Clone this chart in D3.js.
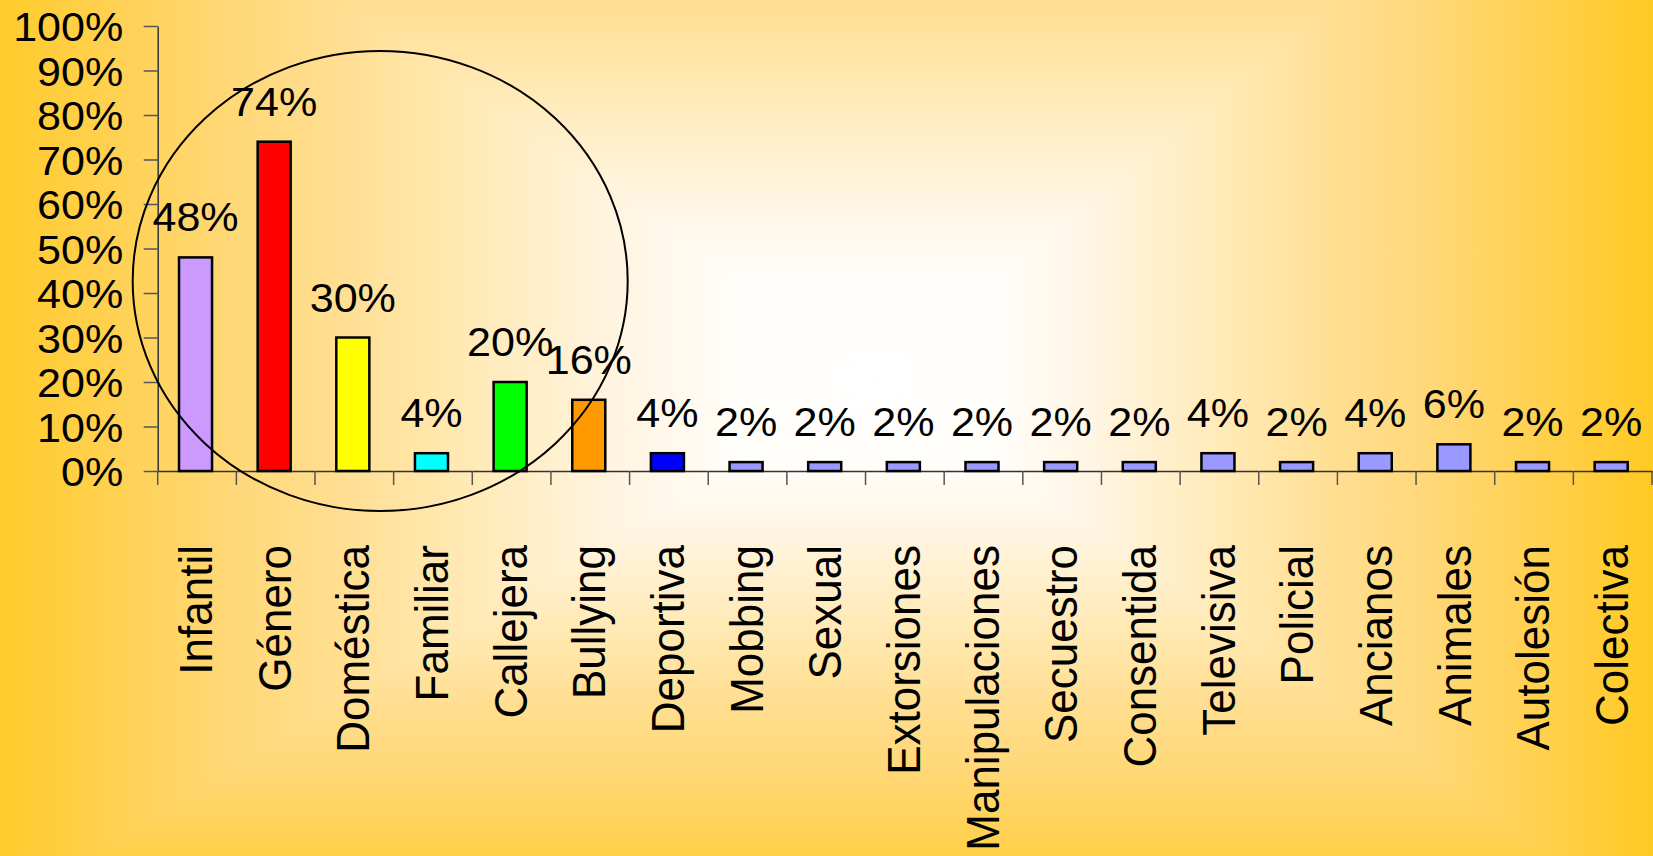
<!DOCTYPE html>
<html>
<head>
<meta charset="utf-8">
<script src="https://cdn.jsdelivr.net/npm/d3@7"></script>
<style>
  html, body { margin: 0; padding: 0; overflow: hidden; background: #FFC81E; }
  svg { display: block; }
  text { font-family: "Liberation Sans", Arial, Helvetica, sans-serif; fill: #000; }
</style>
</head>
<body>
<svg id="chart" width="1653" height="856"></svg>
<script>
// ---- data ----
const categories = ["Infantil","Género","Doméstica","Familiar","Callejera","Bullying","Deportiva","Mobbing","Sexual","Extorsiones","Manipulaciones","Secuestro","Consentida","Televisiva","Policial","Ancianos","Animales","Autolesión","Colectiva"];
const values = [48,74,30,4,20,16,4,2,2,2,2,2,2,4,2,4,6,2,2];
const barColors = ["#CC99FF","#FF0000","#FFFF00","#00FFFF","#00FF00","#FF9900","#0000FF","#9999FF","#9999FF","#9999FF","#9999FF","#9999FF","#9999FF","#9999FF","#9999FF","#9999FF","#9999FF","#9999FF","#9999FF"];
const yTickValues = [0,10,20,30,40,50,60,70,80,90,100];
const yTickLabels = ["0%","10%","20%","30%","40%","50%","60%","70%","80%","90%","100%"];
// annotation ellipse extent (in category-index units and value units)
const ellipseIndexExtent = [-0.318, 5.976];
const ellipseValueExtent = [-9.0, 94.4];

// ---- layout ----
const W = 1653, H = 856;
const plotLeft = 157.7, plotRight = 1652, plotTop = 26, plotBottom = 471;
const stretch = 1.05;

const svg = d3.select("#chart");

// ---- background: rectangular "from centre" gradient ----
const defs = svg.append("defs");
const gc = {x: 876, y: 380, left: 930, right: 800, top: 656, bottom: 560};
const stops = [[0,"#FFFFFF"],[0.15,"#FFFEFA"],[0.27,"#FFF5E3"],[0.46,"#FFE8B0"],[0.58,"#FFDE90"],[0.69,"#FFD878"],[0.8,"#FFD258"],[0.92,"#FFCC32"],[1,"#FFC81C"]];
const k = 4;
const quads = [
  {id:"gTop",   x2: gc.x, y2: gc.y - gc.top,
   pts: [[gc.x, gc.y],[gc.x - gc.left*k, gc.y - gc.top*k],[gc.x + gc.right*k, gc.y - gc.top*k]]},
  {id:"gBot",   x2: gc.x, y2: gc.y + gc.bottom,
   pts: [[gc.x, gc.y],[gc.x - gc.left*k, gc.y + gc.bottom*k],[gc.x + gc.right*k, gc.y + gc.bottom*k]]},
  {id:"gLeft",  x2: gc.x - gc.left, y2: gc.y,
   pts: [[gc.x, gc.y],[gc.x - gc.left*k, gc.y - gc.top*k],[gc.x - gc.left*k, gc.y + gc.bottom*k]]},
  {id:"gRight", x2: gc.x + gc.right, y2: gc.y,
   pts: [[gc.x, gc.y],[gc.x + gc.right*k, gc.y - gc.top*k],[gc.x + gc.right*k, gc.y + gc.bottom*k]]}
];
quads.forEach(d => {
  const lg = defs.append("linearGradient").attr("id", d.id)
    .attr("gradientUnits","userSpaceOnUse")
    .attr("x1", gc.x).attr("y1", gc.y).attr("x2", d.x2).attr("y2", d.y2);
  stops.forEach(s => lg.append("stop").attr("offset", s[0]).attr("stop-color", s[1]));
  svg.append("polygon")
    .attr("points", d.pts.map(p => p.join(",")).join(" "))
    .attr("fill", `url(#${d.id})`)
    .attr("stroke", `url(#${d.id})`).attr("stroke-width", 1);
});

// ---- scales ----
const x = d3.scaleBand().domain(categories).range([plotLeft, plotRight]).padding(0);
const bw = x.bandwidth();
const y = d3.scaleLinear().domain([0, 100]).range([plotBottom, plotTop]);
const xi = d3.scaleLinear().domain([0, categories.length]).range([plotLeft, plotRight]);

const barOffset = 0.271, barFrac = 0.42;
const barCenter = c => x(c) + bw * (barOffset + barFrac / 2);

// ---- y axis ----
const yAxis = d3.axisLeft(y)
  .tickValues(yTickValues)
  .tickSize(14)
  .tickSizeOuter(0)
  .tickFormat((d, i) => yTickLabels[i]);
const gy = svg.append("g").attr("transform", `translate(${plotLeft},0)`).call(yAxis);
gy.select(".domain").attr("stroke", "#333").attr("stroke-width", 1.5);
gy.selectAll(".tick line").attr("stroke", "#555").attr("stroke-width", 1.5);
gy.selectAll(".tick text")
  .attr("x", 0).attr("dy", "0.358em")
  .attr("transform", `translate(-34.5,0) scale(${stretch},1)`)
  .attr("text-anchor", "end")
  .style("font-size", "41px")
  .style("font-family", '"Liberation Sans", Arial, sans-serif')
  .attr("fill", "#000");

// ---- x axis ----
const xAxis = d3.axisBottom(x).tickSize(0).tickSizeOuter(0).tickFormat("");
const gx = svg.append("g").attr("transform", `translate(0,${plotBottom})`).call(xAxis);
gx.select(".domain").attr("stroke", "#333").attr("stroke-width", 1.5);
const boundaries = categories.map(c => x(c)).concat([x(categories[categories.length-1]) + bw]);
svg.append("g").selectAll("line").data(boundaries).join("line")
  .attr("x1", d => d).attr("x2", d => d)
  .attr("y1", plotBottom).attr("y2", plotBottom + 14)
  .attr("stroke", "#555").attr("stroke-width", 1.5);

// ---- bars ----
svg.append("g").selectAll("rect").data(categories).join("rect")
  .attr("x", c => x(c) + bw * barOffset)
  .attr("width", bw * barFrac)
  .attr("y", (c, i) => y(values[i]))
  .attr("height", (c, i) => y(0) - y(values[i]))
  .attr("fill", (c, i) => barColors[i])
  .attr("stroke", "#000").attr("stroke-width", 2.5);

// ---- value labels ----
svg.append("g").selectAll("text").data(categories).join("text")
  .attr("transform", (c, i) => `translate(${barCenter(c)},${y(values[i]) - 26}) scale(${stretch},1)`)
  .attr("text-anchor", "middle")
  .style("font-size", "41px")
  .text((c, i) => values[i] + "%");

// ---- category labels ----
svg.append("g").selectAll("text").data(categories).join("text")
  .attr("transform", c => `translate(${barCenter(c)},545) scale(${stretch},1) rotate(-90)`)
  .attr("text-anchor", "end")
  .attr("dy", "0.36em")
  .style("font-size", "44px")
  .text(c => c);

// ---- annotation ellipse ----
const exl = xi(ellipseIndexExtent[0]), exr = xi(ellipseIndexExtent[1]);
const eyb = y(ellipseValueExtent[0]), eyt = y(ellipseValueExtent[1]);
svg.append("ellipse")
  .attr("cx", (exl + exr) / 2).attr("cy", (eyt + eyb) / 2)
  .attr("rx", (exr - exl) / 2).attr("ry", (eyb - eyt) / 2)
  .attr("fill", "none").attr("stroke", "#000").attr("stroke-width", 2);
</script>
</body>
</html>
